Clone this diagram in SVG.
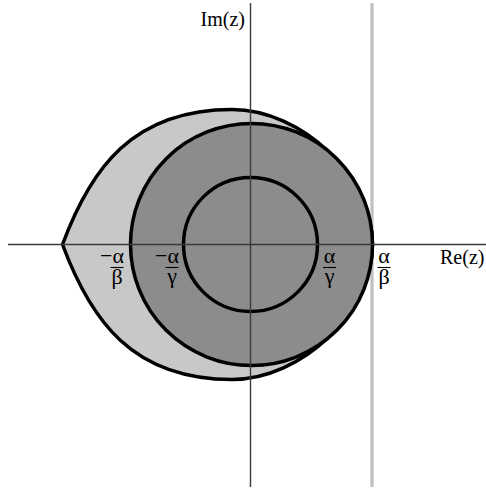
<svg xmlns="http://www.w3.org/2000/svg" width="486" height="489" viewBox="0 0 486 489">
  <style>
    .outline { stroke: #000; stroke-width: 3.5; }
    .axis { stroke: #3a3a3a; stroke-width: 1.4; fill: none; }
    .lbl { font-family: "Liberation Serif", "Times New Roman", serif; font-size: 20px; fill: #000; }
    .frac { font-family: "Liberation Serif", "Times New Roman", serif; font-size: 22px; fill: #000; }
    .bar { stroke: #000; stroke-width: 1.1; }
  </style>
  <rect width="486" height="489" fill="#fff"/>
  <g id="bound-line">
    <line x1="372" y1="3" x2="372" y2="487" stroke="#c0c0c0" stroke-width="3.2"/>
  </g>
  <g id="lens">
    <path class="outline" fill="#c8c8c8" d="M 62.5,244.5 C 90.5,169.3 132,109.5 232,109.5 C 302,109.5 372.5,177 372.5,244.5 C 372.5,312 302,379.5 232,379.5 C 132,379.5 90.5,319.7 62.5,244.5 Z"/>
  </g>
  <g id="outer-circle">
    <circle class="outline" cx="251.5" cy="244.5" r="121" fill="#8c8c8c"/>
  </g>
  <g id="inner-circle">
    <circle class="outline" cx="250.5" cy="244.5" r="67" fill="#8c8c8c"/>
  </g>
  <g id="axes">
    <line class="axis" x1="8" y1="244.5" x2="486" y2="244.5"/>
    <line class="axis" x1="250.5" y1="3" x2="250.5" y2="487"/>
  </g>
  <g id="labels">
    <text class="lbl" x="245" y="26" text-anchor="end">Im(z)</text>
    <text class="lbl" x="440" y="264">Re(z)</text>
    <g id="neg-alpha-beta">
      <text class="frac" x="124" y="263" text-anchor="end">−α</text>
      <line class="bar" x1="110.5" y1="267.5" x2="123.5" y2="267.5"/>
      <text class="frac" x="117" y="284" text-anchor="middle">β</text>
    </g>
    <g id="neg-alpha-gamma">
      <text class="frac" x="179" y="263" text-anchor="end">−α</text>
      <line class="bar" x1="165.5" y1="267.5" x2="178.5" y2="267.5"/>
      <text class="frac" x="172" y="283" text-anchor="middle">γ</text>
    </g>
    <g id="alpha-gamma">
      <text class="frac" x="329.5" y="263" text-anchor="middle">α</text>
      <line class="bar" x1="323" y1="267.5" x2="336" y2="267.5"/>
      <text class="frac" x="329.5" y="283" text-anchor="middle">γ</text>
    </g>
    <g id="alpha-beta">
      <text class="frac" x="384" y="263" text-anchor="middle">α</text>
      <line class="bar" x1="377.5" y1="267.5" x2="390.5" y2="267.5"/>
      <text class="frac" x="384" y="284" text-anchor="middle">β</text>
    </g>
  </g>
</svg>
